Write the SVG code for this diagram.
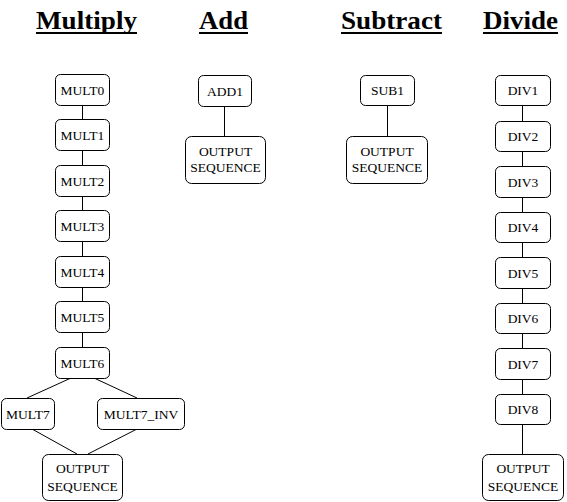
<svg xmlns="http://www.w3.org/2000/svg" width="567" height="502" viewBox="0 0 567 502">
<style>
.h{font-family:"Liberation Serif","Times New Roman",serif;font-weight:bold;font-size:26px;fill:#000;text-anchor:middle}
.ul{fill:#000}
.b{fill:#fff;stroke:#000;stroke-width:1}
.t{font-family:"Liberation Serif","Times New Roman",serif;font-size:13.5px;fill:#000;text-anchor:middle}
.c line{stroke:#000;stroke-width:1}
</style>
<rect width="567" height="502" fill="#fff"/>
<g id="headings">
<text class="h" x="86.5" y="29" textLength="101" lengthAdjust="spacingAndGlyphs">Multiply</text>
<rect class="ul" x="36" y="32" width="101" height="2"/>
<text class="h" x="223.5" y="29" textLength="49" lengthAdjust="spacingAndGlyphs">Add</text>
<rect class="ul" x="199" y="32" width="49" height="2"/>
<text class="h" x="391.5" y="29" textLength="101" lengthAdjust="spacingAndGlyphs">Subtract</text>
<rect class="ul" x="341" y="32" width="101" height="2"/>
<text class="h" x="520.5" y="29" textLength="75" lengthAdjust="spacingAndGlyphs">Divide</text>
<rect class="ul" x="483" y="32" width="75" height="2"/>
</g>
<g class="c" id="connectors">
<line x1="82.5" y1="105" x2="82.5" y2="119"/>
<line x1="82.5" y1="150" x2="82.5" y2="165"/>
<line x1="82.5" y1="196" x2="82.5" y2="210"/>
<line x1="82.5" y1="241" x2="82.5" y2="256"/>
<line x1="82.5" y1="287" x2="82.5" y2="301"/>
<line x1="82.5" y1="332" x2="82.5" y2="347"/>
<line x1="71" y1="378" x2="27" y2="398"/>
<line x1="94" y1="378" x2="137" y2="398"/>
<line x1="32" y1="429" x2="77" y2="454"/>
<line x1="137" y1="429" x2="88" y2="454"/>
<line x1="224.5" y1="106" x2="224.5" y2="136"/>
<line x1="387.5" y1="105" x2="387.5" y2="136"/>
<line x1="522.5" y1="105" x2="522.5" y2="121"/>
<line x1="522.5" y1="151" x2="522.5" y2="166"/>
<line x1="522.5" y1="197" x2="522.5" y2="212"/>
<line x1="522.5" y1="242" x2="522.5" y2="257"/>
<line x1="522.5" y1="288" x2="522.5" y2="303"/>
<line x1="522.5" y1="333" x2="522.5" y2="348"/>
<line x1="522.5" y1="379" x2="522.5" y2="394"/>
<line x1="522.5" y1="424" x2="522.5" y2="454"/>
</g>
<g id="MULT0"><rect class="b" x="55.5" y="74.5" width="54" height="31" rx="5"/><text class="t" x="82.5" y="94.5">MULT0</text></g>
<g id="MULT1"><rect class="b" x="55.5" y="119.5" width="54" height="31" rx="5"/><text class="t" x="82.5" y="139.5">MULT1</text></g>
<g id="MULT2"><rect class="b" x="55.5" y="165.5" width="54" height="31" rx="5"/><text class="t" x="82.5" y="185.5">MULT2</text></g>
<g id="MULT3"><rect class="b" x="55.5" y="210.5" width="54" height="31" rx="5"/><text class="t" x="82.5" y="230.5">MULT3</text></g>
<g id="MULT4"><rect class="b" x="55.5" y="256.5" width="54" height="31" rx="5"/><text class="t" x="82.5" y="276.5">MULT4</text></g>
<g id="MULT5"><rect class="b" x="55.5" y="301.5" width="54" height="31" rx="5"/><text class="t" x="82.5" y="321.5">MULT5</text></g>
<g id="MULT6"><rect class="b" x="55.5" y="347.5" width="54" height="31" rx="5"/><text class="t" x="82.5" y="367.5">MULT6</text></g>
<g id="MULT7"><rect class="b" x="1.5" y="398.5" width="53" height="31" rx="5"/><text class="t" x="28" y="418.5">MULT7</text></g>
<g id="MULT7_INV"><rect class="b" x="97.5" y="398.5" width="87" height="31" rx="5"/><text class="t" x="141" y="418.5">MULT7_INV</text></g>
<g id="MULT_OUT"><rect class="b" x="42.5" y="454.5" width="80" height="46" rx="6"/><text class="t" x="82.5" y="473">OUTPUT</text><text class="t" x="82.5" y="491">SEQUENCE</text></g>
<g id="ADD1"><rect class="b" x="198.5" y="75.5" width="53" height="31" rx="5"/><text class="t" x="225" y="95.5">ADD1</text></g>
<g id="ADD_OUT"><rect class="b" x="185.5" y="136.5" width="80" height="47" rx="6"/><text class="t" x="225.5" y="156">OUTPUT</text><text class="t" x="225.5" y="172">SEQUENCE</text></g>
<g id="SUB1"><rect class="b" x="360.5" y="75.5" width="54" height="30" rx="5"/><text class="t" x="387.5" y="95">SUB1</text></g>
<g id="SUB_OUT"><rect class="b" x="346.5" y="136.5" width="81" height="47" rx="6"/><text class="t" x="387" y="156">OUTPUT</text><text class="t" x="387" y="172">SEQUENCE</text></g>
<g id="DIV1"><rect class="b" x="495.5" y="75.5" width="55" height="30" rx="5"/><text class="t" x="523" y="95">DIV1</text></g>
<g id="DIV2"><rect class="b" x="495.5" y="121.5" width="55" height="30" rx="5"/><text class="t" x="523" y="141">DIV2</text></g>
<g id="DIV3"><rect class="b" x="495.5" y="166.5" width="55" height="31" rx="5"/><text class="t" x="523" y="186.5">DIV3</text></g>
<g id="DIV4"><rect class="b" x="495.5" y="212.5" width="55" height="30" rx="5"/><text class="t" x="523" y="232">DIV4</text></g>
<g id="DIV5"><rect class="b" x="495.5" y="257.5" width="55" height="31" rx="5"/><text class="t" x="523" y="277.5">DIV5</text></g>
<g id="DIV6"><rect class="b" x="495.5" y="303.5" width="55" height="30" rx="5"/><text class="t" x="523" y="323">DIV6</text></g>
<g id="DIV7"><rect class="b" x="495.5" y="348.5" width="55" height="31" rx="5"/><text class="t" x="523" y="368.5">DIV7</text></g>
<g id="DIV8"><rect class="b" x="495.5" y="394.5" width="55" height="30" rx="5"/><text class="t" x="523" y="414">DIV8</text></g>
<g id="DIV_OUT"><rect class="b" x="482.5" y="454.5" width="81" height="46" rx="6"/><text class="t" x="523" y="473">OUTPUT</text><text class="t" x="523" y="491">SEQUENCE</text></g>
</svg>
